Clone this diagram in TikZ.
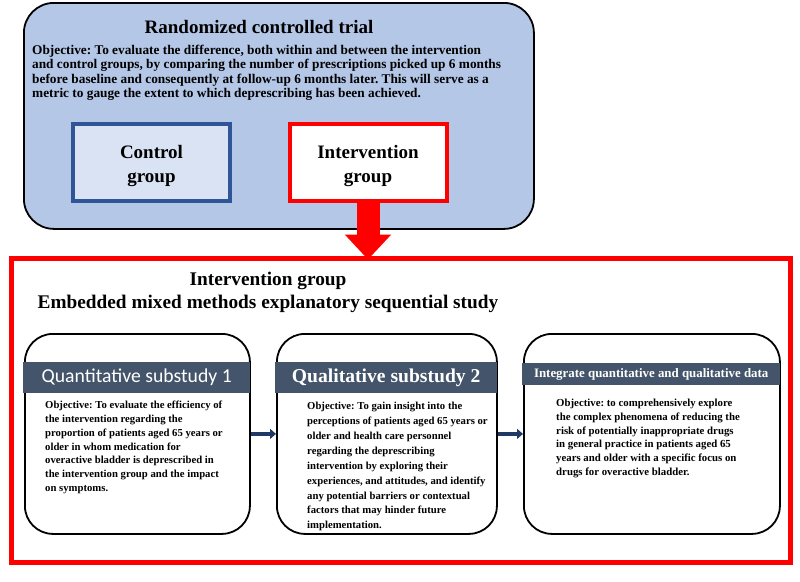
\documentclass[tikz,border=0pt]{standalone}
\usepackage{fontspec}
\setmainfont{Liberation Serif}
\newfontfamily\calibfont{Carlito}
\usetikzlibrary{arrows.meta}
\frenchspacing

\definecolor{trialblue}{HTML}{B4C7E7}
\definecolor{ctrlfill}{HTML}{DAE3F3}
\definecolor{ctrlline}{HTML}{2F5597}
\definecolor{headgray}{HTML}{44546A}
\definecolor{arrownavy}{HTML}{1F3864}
\definecolor{framered}{HTML}{FF0000}

\tikzset{
  groupbox/.style={draw, line width=4pt, minimum width=157pt, minimum height=77pt,
    align=center, font=\bfseries\fontsize{19}{24}\selectfont},
  studybox/.style={draw=black, line width=1.8pt, rounded corners=28pt, fill=white,
    anchor=north west},
  headbar/.style={fill=headgray, text=white, anchor=north west, inner sep=0pt},
  objtext/.style={anchor=north west, align=left, inner sep=0pt,
    font=\bfseries\fontsize{10.7}{13.8}\selectfont},
  steparrow/.style={line width=3.5pt, arrownavy, -{Triangle[length=6pt,width=10pt]}},
}

\begin{document}
\begin{tikzpicture}[x=1pt,y=-1pt]
\useasboundingbox (0,0) rectangle (800,581);
% randomized controlled trial
\node[draw=black, line width=1.8pt, fill=trialblue, rounded corners=30pt,
  minimum width=510pt, minimum height=226pt, anchor=north west] (trial) at (23,2) {};
\node[anchor=base, font=\bfseries\fontsize{19}{22}\selectfont] (trialtitle) at (259,33)
  {Randomized controlled trial};
\node[objtext, font=\bfseries\fontsize{13.3}{14.3}\selectfont] (trialobj) at (32,45)
  {Objective: To evaluate the difference, both within and between the intervention\\
   and control groups, by comparing the number of prescriptions picked up 6 months\\
   before baseline and consequently at follow-up 6 months later. This will serve as a\\
   metric to gauge the extent to which deprescribing has been achieved.};
\node[groupbox, draw=ctrlline, fill=ctrlfill] (ctrl) at (151.5,162.5)
  {\rule{0pt}{21pt}Control\\group};
\node[groupbox, draw=framered, fill=white] (intv) at (368,162.5)
  {\rule{0pt}{21pt}Intervention\\group};

% intervention group frame
\node[draw=framered, line width=5pt, minimum width=779pt, minimum height=304pt,
  anchor=north west] (frame) at (8.5,255.5) {};
\node[anchor=north, align=center, inner sep=0pt, font=\bfseries\fontsize{19.3}{23}\selectfont]
  (frametitle) at (268,272) {Intervention group\\Embedded mixed methods explanatory sequential study};

% substudy 1
\node[studybox, minimum width=225pt, minimum height=200pt] (qnt) at (24,333) {};
\node[headbar, minimum width=227pt, minimum height=31pt, font=\calibfont\fontsize{19.7}{22}\selectfont]
  (qnthead) at (23,362) {Quantitative substudy 1};
\node[objtext] (qnttext) at (45,401)
  {Objective: To evaluate the efficiency of\\
   the intervention regarding the\\
   proportion of patients aged 65 years or\\
   older in whom medication for\\
   overactive bladder is deprescribed in\\
   the intervention group and the impact\\
   on symptoms.};

% substudy 2
\node[studybox, minimum width=220pt, minimum height=200pt] (qlt) at (276,333) {};
\node[headbar, minimum width=222pt, minimum height=31pt, font=\bfseries\fontsize{19.6}{24}\selectfont]
  (qlthead) at (275,362) {Qualitative substudy 2};
\node[objtext, font=\bfseries\fontsize{10.7}{14.9}\selectfont] (qlttext) at (307,402)
  {Objective: To gain insight into the\\
   perceptions of patients aged 65 years or\\
   older and health care personnel\\
   regarding the deprescribing\\
   intervention by exploring their\\
   experiences, and attitudes, and identify\\
   any potential barriers or contextual\\
   factors that may hinder future\\
   implementation.};

% integration
\node[studybox, minimum width=256pt, minimum height=200pt] (integ) at (523,333) {};
\node[headbar, minimum width=258pt, minimum height=22pt, font=\bfseries\fontsize{12.9}{15}\selectfont]
  (integhead) at (522,363) {Integrate quantitative and qualitative data};
\node[objtext, font=\bfseries\fontsize{10.8}{13.7}\selectfont] (integtext) at (556,399)
  {Objective: to comprehensively explore\\
   the complex phenomena of reducing the\\
   risk of potentially inappropriate drugs\\
   in general practice in patients aged 65\\
   years and older with a specific focus on\\
   drugs for overactive bladder.};

% arrows
\draw[steparrow] (qnt.east) -- (qnt.east -| qlt.west);
\draw[steparrow] (qlt.east) -- (qlt.east -| integ.west);
\draw[line width=23pt, framered, shorten >=-4pt, -{Triangle[length=25pt,width=45pt]}]
  (intv.south) -- (intv.south |- frame.north);
\end{tikzpicture}
\end{document}
